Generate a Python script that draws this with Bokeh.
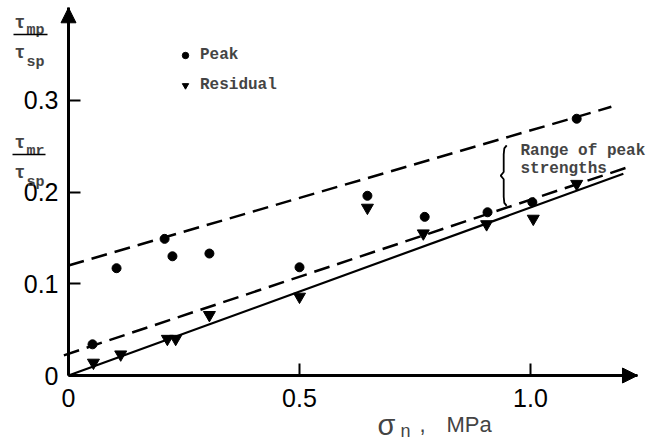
from bokeh.plotting import figure
from bokeh.models import Range1d, FixedTicker, Label, Arrow, NormalHead, Legend, LegendItem
from bokeh.embed import file_html
from bokeh.resources import INLINE

# ---- data ----
peak_x = [0.052, 0.104, 0.208, 0.225, 0.305, 0.50, 0.647, 0.771, 0.907, 1.004, 1.10]
peak_y = [0.034, 0.117, 0.149, 0.130, 0.133, 0.118, 0.196, 0.173, 0.178, 0.189, 0.280]
res_x = [0.054, 0.113, 0.214, 0.232, 0.305, 0.50, 0.647, 0.768, 0.905, 1.006, 1.10]
res_y = [0.014, 0.023, 0.040, 0.040, 0.066, 0.086, 0.183, 0.155, 0.165, 0.171, 0.209]

upper_x = [0.0, 1.175]
upper_y = [0.120, 0.293]
mid_x = [-0.01, 1.216]
mid_y = [0.022, 0.228]
solid_x = [0.0, 1.201]
solid_y = [0.0, 0.220]

brace_x = 0.942
brace_y = [0.185, 0.251]

x_ticks = [0, 0.5, 1.0]
y_ticks = [0, 0.1, 0.2, 0.3]
x_axis_end = 1.2316
y_axis_end = 0.401

# ---- layout helpers (page pixel -> data) ----
X0, Y0, SX, SY = 68.0, 375.0, 462.0, 917.0
def px_x(px):
    return (px - X0) / SX
def px_y(py):
    return (Y0 - py) / SY

W, H = 659, 439
p = figure(width=W, height=H, output_backend="svg", toolbar_location=None,
           x_range=Range1d(px_x(0), px_x(W)), y_range=Range1d(px_y(H), px_y(0)),
           min_border_left=0, min_border_right=0, min_border_top=0, min_border_bottom=0)
p.outline_line_color = None
p.grid.visible = False
p.background_fill_color = "white"
p.border_fill_color = "white"

for ax, ticks, ov, bnds in ((p.xaxis[0], x_ticks, {0: "0", 0.5: "0.5", 1.0: "1.0"}, (0, x_axis_end)),
                            (p.yaxis[0], y_ticks, {0: "0", 0.1: "0.1", 0.2: "0.2", 0.3: "0.3"}, (0, y_axis_end))):
    ax.fixed_location = 0
    ax.bounds = bnds
    ax.ticker = FixedTicker(ticks=ticks)
    ax.major_label_overrides = ov
    ax.axis_line_width = 3
    ax.axis_line_color = "black"
    ax.major_tick_in = 12
    ax.major_tick_out = 0
    ax.major_tick_line_width = 2
    ax.minor_tick_line_color = None
    ax.major_label_text_font = "Liberation Sans"
    ax.major_label_text_font_size = "25px"
    ax.major_label_text_color = "black"
p.xaxis[0].major_label_standoff = 13
p.yaxis[0].major_label_standoff = 10

# lines
p.line(upper_x, upper_y, line_color="black", line_width=2.5, line_dash="16 8")
p.line(mid_x, mid_y, line_color="black", line_width=2.5, line_dash="16 8")
p.line(solid_x, solid_y, line_color="black", line_width=2.2)

# points
r_peak = p.scatter(peak_x, peak_y, marker="circle", size=9, color="black")
r_res = p.scatter(res_x, res_y, marker="inverted_triangle", size=12, color="black")

# brace
bw = 3.0 / SX
yl, yh = brace_y
shape = [(1, 0.0), (0.2, 0.05), (0, 0.15), (0, 0.44), (-1, 0.5), (0, 0.56), (0, 0.85), (0.2, 0.95), (1, 1.0)]
p.line([brace_x + s * bw for s, t in shape], [yh - t * (yh - yl) for s, t in shape],
       line_color="black", line_width=1.8)

mono = "Liberation Mono"
for txt, yb in (("Range of peak", 150), ("strengths", 168)):
    p.add_layout(Label(x=px_x(520), y=px_y(yb), text=txt, text_font=mono,
                       text_font_size="16px", text_font_style="bold", text_baseline="alphabetic"))

# legend
legend = Legend(items=[LegendItem(label="Peak", renderers=[r_peak]),
                       LegendItem(label="Residual", renderers=[r_res])],
                location=(177, H - 95), padding=0, margin=0, spacing=10,
                glyph_width=16, glyph_height=20, label_height=20, label_standoff=7,
                label_text_font=mono, label_text_font_size="16px", label_text_font_style="bold",
                border_line_color=None, background_fill_alpha=0)
p.add_layout(legend)

# y-axis fraction labels
def frac(top_sub, y_tau1, y_sub1, y_bar, y_tau2, y_sub2, bar_l, bar_r):
    for txt, xx, yy, fs in (("τ", 14, y_tau1, "18px"), (top_sub, 26, y_sub1, "15px"),
                            ("τ", 14, y_tau2, "18px"), ("sp", 26, y_sub2, "15px")):
        p.add_layout(Label(x=px_x(xx), y=px_y(yy), text=txt, text_font=mono, text_font_style="bold",
                           text_font_size=fs, text_baseline="alphabetic"))
    p.add_layout(Arrow(start=None, end=None, x_start=px_x(bar_l), x_end=px_x(bar_r),
                       y_start=px_y(y_bar), y_end=px_y(y_bar), line_width=1.5, line_color="black"))

frac("mp", 22, 30, 34, 52, 62, 13, 47)
frac("mr", 142, 151, 154, 172, 182, 12, 45)

# x-axis label
for txt, xx, yy, fs in (("σ", 377, 424, "29px"), ("n", 400, 430, "18px"),
                        (",", 419, 424, "22px"), ("MPa", 446, 424, "22px")):
    p.add_layout(Label(x=px_x(xx), y=px_y(yy), text=txt, text_font="Liberation Sans",
                       text_font_size=fs, text_baseline="alphabetic"))

# axis arrow heads
p.add_layout(Arrow(end=NormalHead(size=15, fill_color="black", line_color="black"),
                   x_start=0, y_start=y_axis_end - 0.04, x_end=0, y_end=y_axis_end, line_width=3))
p.add_layout(Arrow(end=NormalHead(size=15, fill_color="black", line_color="black"),
                   x_start=x_axis_end - 0.08, y_start=0, x_end=x_axis_end, y_end=0, line_width=3))

open("out.html", "w").write(file_html(p, INLINE))
